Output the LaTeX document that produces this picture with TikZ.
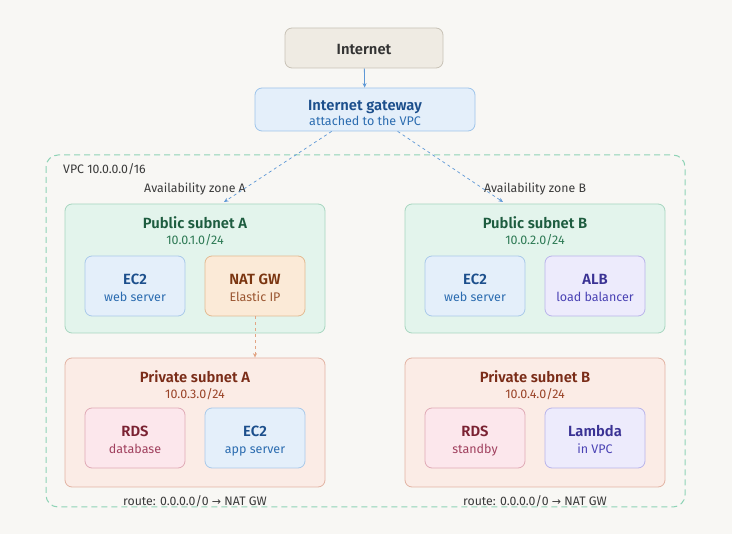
\documentclass[tikz,border=0pt]{standalone}
\usepackage{fontspec}
\setmainfont{Fira Sans}[BoldFont={Fira Sans SemiBold}]
\newfontfamily\symfont{DejaVu Sans}
\usetikzlibrary{arrows.meta}
\definecolor{bgc}{HTML}{F8F7F4}
\definecolor{inetF}{HTML}{EFEBE3}\definecolor{inetD}{HTML}{C8C2B6}\definecolor{inetT}{HTML}{333333}
\definecolor{igwF}{HTML}{E4EFFA}\definecolor{igwD}{HTML}{9EC4EA}\definecolor{igwT}{HTML}{1C4F8C}\definecolor{igwS}{HTML}{2B6CB0}
\definecolor{vpcD}{HTML}{8FD3B6}
\definecolor{pubF}{HTML}{E3F4EC}\definecolor{pubD}{HTML}{A7D6BF}\definecolor{pubT}{HTML}{1D5C3F}\definecolor{pubS}{HTML}{2E7A55}
\definecolor{natF}{HTML}{FBEAD7}\definecolor{natD}{HTML}{E2BA92}\definecolor{natT}{HTML}{7A3510}\definecolor{natS}{HTML}{9A5530}
\definecolor{priF}{HTML}{FBECE6}\definecolor{priD}{HTML}{E2B3A3}\definecolor{priT}{HTML}{7A2C18}\definecolor{priS}{HTML}{9A4428}
\definecolor{rdsF}{HTML}{FCE7EC}\definecolor{rdsD}{HTML}{E0AAB6}\definecolor{rdsT}{HTML}{7A2232}\definecolor{rdsS}{HTML}{A0405E}
\definecolor{albF}{HTML}{EDEBFC}\definecolor{albD}{HTML}{B9B4EA}\definecolor{albT}{HTML}{3A3294}\definecolor{albS}{HTML}{4A42B4}
\definecolor{ec2D}{HTML}{A9C9E9}
\definecolor{arrB}{HTML}{5E98D6}\definecolor{arrO}{HTML}{E2A584}
\definecolor{txt}{HTML}{3A3A3A}
\tikzset{
  box/.style={draw, rounded corners=7pt, line width=0.8pt, inner sep=0pt},
  small/.style={box, minimum width=100pt, minimum height=60pt},
  subnet/.style={box, minimum width=260pt, minimum height=129pt},
  ttl/.style={font=\fontsize{14.8}{16}\selectfont\bfseries, inner sep=0pt, anchor=base},
  sub/.style={font=\fontsize{12.5}{14}\selectfont, inner sep=0pt, anchor=base},
  plain/.style={font=\fontsize{12.3}{14}\selectfont, text=txt, inner sep=0pt, anchor=base},
  arr/.style={-{Stealth[length=4.5pt,width=4pt]}, line width=0.8pt}
}
\begin{document}
\begin{tikzpicture}[x=1pt,y=-1pt]
\fill[bgc] (0,0) rectangle (732,534);
\useasboundingbox (0,0) rectangle (732,534);
% Internet
\node[box, fill=inetF, draw=inetD, minimum width=158pt, minimum height=40pt] (inet) at (364,48) {};
\node[ttl, text=inetT] (inetT) at (364,55) {Internet};
% IGW
\node[box, fill=igwF, draw=igwD, minimum width=220pt, minimum height=43pt] (igw) at (365,109.5) {};
\node[ttl, text=igwT] (igwT) at (365,110.5) {Internet gateway};
\node[sub, text=igwS] (igwS) at (365,125.5) {attached to the VPC};
\draw[arr, draw=arrB] (inet) -- (igw);
% VPC
\draw[draw=vpcD, line width=1pt, dash pattern=on 6pt off 4pt, rounded corners=12pt] (46,155) rectangle (685,507);
\node[plain, anchor=base west] (vpcL) at (63,174) {VPC 10.0.0.0/16};
\node[plain] (azA) at (195,193) {Availability zone A};
\node[plain] (azB) at (535,193) {Availability zone B};
\coordinate (azAp) at (224,202);
\coordinate (azBp) at (503,202);
\draw[arr, draw=arrB, line width=0.7pt, dash pattern=on 3pt off 3pt] (igw) -- (azAp);
\draw[arr, draw=arrB, line width=0.7pt, dash pattern=on 3pt off 3pt] (igw) -- (azBp);
% Public subnet A
\node[subnet, fill=pubF, draw=pubD] (pubA) at (195,268.5) {};
\node[ttl, text=pubT] (pubAT) at (195,228.5) {Public subnet A};
\node[sub, text=pubS] (pubAS) at (195,244.5) {10.0.1.0/24};
\node[small, fill=igwF, draw=ec2D] (ec2A) at (135,286) {};
\node[ttl, text=igwT] at (135,284.5) {EC2};
\node[sub, text=igwS] at (135,302) {web server};
\node[small, fill=natF, draw=natD] (nat) at (255,286) {};
\node[ttl, text=natT] at (255,284.5) {NAT GW};
\node[sub, text=natS] at (255,302) {Elastic IP};
% Public subnet B
\node[subnet, fill=pubF, draw=pubD] (pubB) at (535,268.5) {};
\node[ttl, text=pubT] (pubBT) at (535,228.5) {Public subnet B};
\node[sub, text=pubS] (pubBS) at (535,244.5) {10.0.2.0/24};
\node[small, fill=igwF, draw=ec2D] (ec2B) at (475,286) {};
\node[ttl, text=igwT] at (475,284.5) {EC2};
\node[sub, text=igwS] at (475,302) {web server};
\node[small, fill=albF, draw=albD] (alb) at (595,286) {};
\node[ttl, text=albT] at (595,284.5) {ALB};
\node[sub, text=albS] at (595,302) {load balancer};
% Private subnet A
\node[subnet, fill=priF, draw=priD] (priA) at (195,422.5) {};
\node[ttl, text=priT] (priAT) at (195,383) {Private subnet A};
\node[sub, text=priS] (priAS) at (195,399) {10.0.3.0/24};
\node[small, fill=rdsF, draw=rdsD] (rdsA) at (135,438) {};
\node[ttl, text=rdsT] at (135,437) {RDS};
\node[sub, text=rdsS] at (135,454) {database};
\node[small, fill=igwF, draw=ec2D] (ec2C) at (255,438) {};
\node[ttl, text=igwT] at (255,437) {EC2};
\node[sub, text=igwS] at (255,454) {app server};
% Private subnet B
\node[subnet, fill=priF, draw=priD] (priB) at (535,422.5) {};
\node[ttl, text=priT] (priBT) at (535,383) {Private subnet B};
\node[sub, text=priS] (priBS) at (535,399) {10.0.4.0/24};
\node[small, fill=rdsF, draw=rdsD] (rdsB) at (475,438) {};
\node[ttl, text=rdsT] at (475,437) {RDS};
\node[sub, text=rdsS] at (475,454) {standby};
\node[small, fill=albF, draw=albD] (lam) at (595,438) {};
\node[ttl, text=albT] at (595,437) {Lambda};
\node[sub, text=albS] at (595,454) {in VPC};
% NAT arrow
\draw[arr, draw=arrO, line width=0.8pt, dash pattern=on 3pt off 3pt] (nat) -- (nat |- priA.north);
% routes
\node[plain] (rtA) at (195,505.5) {route: 0.0.0.0/0 {\symfont\fontsize{11}{12}\selectfont →} NAT GW};
\node[plain] (rtB) at (535,505.5) {route: 0.0.0.0/0 {\symfont\fontsize{11}{12}\selectfont →} NAT GW};
\end{tikzpicture}
\end{document}
